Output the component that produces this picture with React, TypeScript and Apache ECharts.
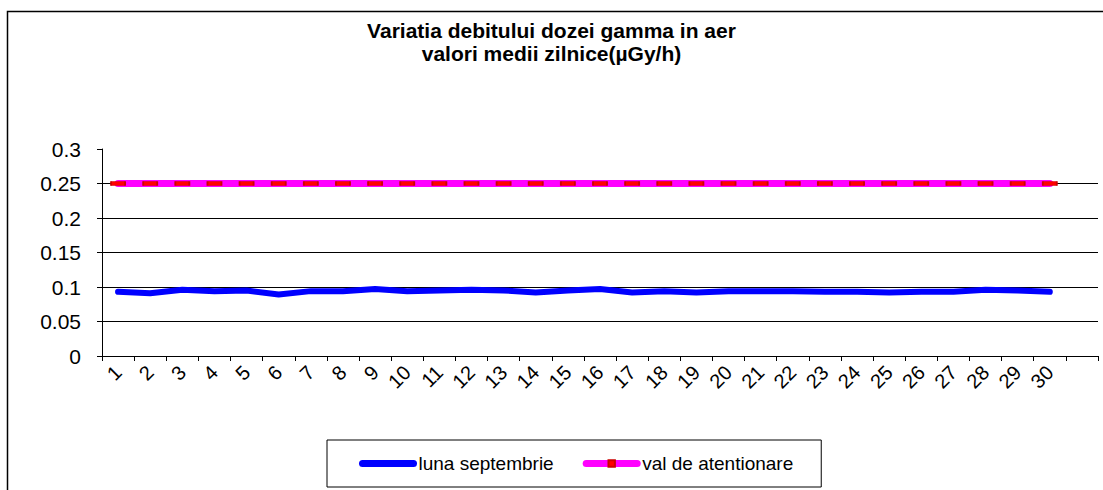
import React, { useEffect, useRef } from "react";
import * as echarts from "echarts";

const titleLines = ["Variatia debitului dozei gamma in aer", "valori medii zilnice(µGy/h)"];
const days = ["1", "2", "3", "4", "5", "6", "7", "8", "9", "10", "11", "12", "13", "14", "15", "16", "17", "18", "19", "20", "21", "22", "23", "24", "25", "26", "27", "28", "29", "30", ""];
const seriesNames = ["luna septembrie", "val de atentionare"];
const septembrie = [0.093, 0.091, 0.096, 0.094, 0.095, 0.089, 0.094, 0.094, 0.097, 0.094, 0.095, 0.096, 0.095, 0.092, 0.095, 0.097, 0.092, 0.094, 0.092, 0.094, 0.094, 0.094, 0.093, 0.093, 0.092, 0.093, 0.093, 0.096, 0.095, 0.093];
const atentionare = [0.25, 0.25, 0.25, 0.25, 0.25, 0.25, 0.25, 0.25, 0.25, 0.25, 0.25, 0.25, 0.25, 0.25, 0.25, 0.25, 0.25, 0.25, 0.25, 0.25, 0.25, 0.25, 0.25, 0.25, 0.25, 0.25, 0.25, 0.25, 0.25, 0.25];
const yMin = 0;
const yMax = 0.3;
const yStep = 0.05;

const FONT = "'Liberation Sans', Arial, sans-serif";

export default function App() {
  const ref = useRef<HTMLDivElement>(null);
  useEffect(() => {
    if (!ref.current) return;
    const chart = echarts.init(ref.current, undefined, { renderer: "svg" });
    chart.setOption({
      animation: false,
      backgroundColor: "#fff",
      textStyle: { fontFamily: FONT, color: "#000" },
      title: {
        text: titleLines.join("\n"),
        left: "center",
        top: 14,
        textStyle: { fontFamily: FONT, fontSize: 21, fontWeight: "bold", color: "#000", lineHeight: 23 },
      },
      graphic: [
        {
          type: "rect",
          left: 5,
          top: 9,
          shape: { x: 0, y: 0, width: 1200, height: 600 },
          style: { fill: "none", stroke: "#000", lineWidth: 1.5 },
          silent: true,
          z: -10,
        },
      ],
      grid: { left: 102, right: 5, top: 149, bottom: 134, containLabel: false },
      legend: {
        left: 327,
        top: 440,
        padding: [14, 28, 14, 32],
        itemGap: 29,
        itemWidth: 51,
        itemHeight: 8,
        borderColor: "#000",
        borderWidth: 1,
        textStyle: { fontFamily: FONT, fontSize: 19, color: "#000" },
        lineStyle: { width: 7, cap: "round" },
        data: [
          { name: seriesNames[0], itemStyle: { opacity: 0 } },
          { name: seriesNames[1] },
        ],
      },
      xAxis: {
        type: "category",
        data: days,
        boundaryGap: true,
        axisLine: { lineStyle: { color: "#000", width: 1 } },
        axisTick: { show: true, length: 5, lineStyle: { color: "#000" } },
        axisLabel: { interval: 0, rotate: 45, margin: 13, fontSize: 20, color: "#000", fontFamily: FONT },
        splitLine: { show: false },
      },
      yAxis: {
        type: "value",
        min: yMin,
        max: yMax,
        interval: yStep,
        axisLine: { show: true, lineStyle: { color: "#000", width: 1 } },
        axisTick: { show: true, length: 5, lineStyle: { color: "#000" } },
        axisLabel: { margin: 21, fontSize: 21, color: "#000", fontFamily: FONT },
        splitLine: { show: true, showMaxLine: false, lineStyle: { color: "#000", width: 1 } },
      },
      series: [
        {
          name: seriesNames[0],
          type: "line",
          data: septembrie,
          symbol: "none",
          lineStyle: { color: "#0000FF", width: 6, cap: "round", join: "round" },
          itemStyle: { color: "#0000FF" },
          z: 3,
        },
        {
          name: seriesNames[1],
          type: "line",
          data: atentionare,
          symbol: "rect",
          symbolSize: [14, 4],
          showSymbol: true,
          lineStyle: { color: "#FF00FF", width: 7, cap: "round" },
          itemStyle: { color: "#FF0000", borderColor: "#CC0000", borderWidth: 1 },
          z: 4,
        },
      ],
    });
    return () => chart.dispose();
  }, []);
  return <div ref={ref} style={{ position: "fixed", left: 0, top: 0, width: 1103, height: 490 }} />;
}
